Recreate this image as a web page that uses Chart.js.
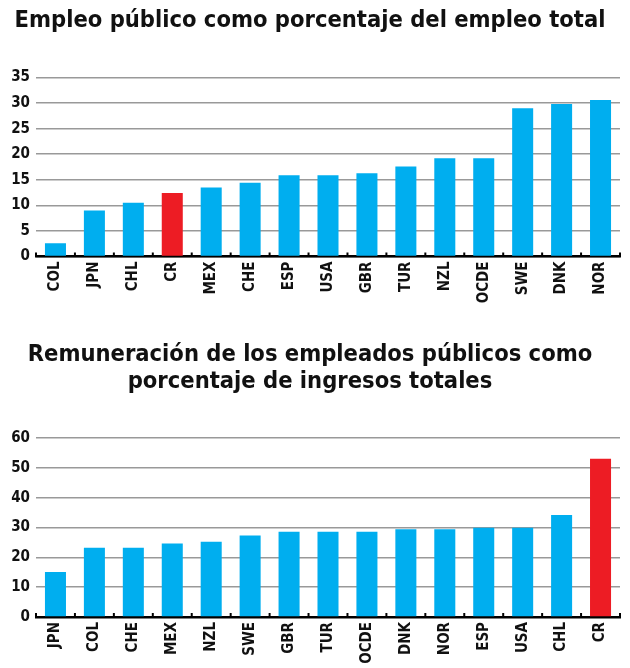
<!DOCTYPE html>
<html>
<head>
<meta charset="utf-8">
<script src="https://cdn.jsdelivr.net/npm/chart.js@4.4.1/dist/chart.umd.min.js"></script>
<style>
  html, body { margin: 0; padding: 0; background: #fff; }
  body { width: 630px; height: 668px; position: relative; overflow: hidden; }
  canvas { position: absolute; left: 0; }
  #c1 { top: 0; }
  #c2 { top: 330px; }
</style>
</head>
<body>
<canvas id="c1" width="630" height="325"></canvas>
<canvas id="c2" width="630" height="338"></canvas>
<script>
// ---- Data: chart 1 ----
const title1 = 'Empleo público como porcentaje del empleo total';
const categories1 = ['COL', 'JPN', 'CHL', 'CR', 'MEX', 'CHE', 'ESP', 'USA', 'GBR', 'TUR', 'NZL', 'OCDE', 'SWE', 'DNK', 'NOR'];
const values1 = [2.6, 9.0, 10.5, 12.4, 13.5, 14.4, 15.9, 15.9, 16.3, 17.6, 19.2, 19.2, 29.0, 29.8, 30.6];
const yTicks1 = [0, 5, 10, 15, 20, 25, 30, 35];

// ---- Data: chart 2 ----
const title2 = ['Remuneración de los empleados públicos como', 'porcentaje de ingresos totales'];
const categories2 = ['JPN', 'COL', 'CHE', 'MEX', 'NZL', 'SWE', 'GBR', 'TUR', 'OCDE', 'DNK', 'NOR', 'ESP', 'USA', 'CHL', 'CR'];
const values2 = [15.1, 23.2, 23.2, 24.6, 25.2, 27.3, 28.6, 28.6, 28.6, 29.4, 29.4, 29.9, 29.9, 34.2, 53.0];
const yTicks2 = [0, 10, 20, 30, 40, 50, 60];

const highlight = 'CR';
const BLUE = '#00aeef';
const RED = '#ed1c24';
const FONT = "'DejaVu Sans Condensed', sans-serif";

const tickMarks = {
  id: 'tickMarks',
  afterDatasetsDraw(chart) {
    const xs = chart.scales.x;
    const ctx = chart.ctx;
    const n = chart.data.labels.length;
    const half = (xs.getPixelForValue(1) - xs.getPixelForValue(0)) / 2;
    ctx.save();
    ctx.strokeStyle = '#000';
    ctx.lineWidth = 2;
    for (let i = 0; i <= n; i++) {
      const px = i < n ? xs.getPixelForValue(i) - half : xs.getPixelForValue(n - 1) + half;
      ctx.beginPath();
      ctx.moveTo(px, xs.top - 4);
      ctx.lineTo(px, xs.top);
      ctx.stroke();
    }
    ctx.restore();
  }
};

function makeChart(id, titleText, titlePad, cats, vals, ticks, xHeight) {
  const yMax = ticks[ticks.length - 1];
  const step = ticks[1] - ticks[0];
  return new Chart(document.getElementById(id), {
    type: 'bar',
    data: {
      labels: cats,
      datasets: [{
        data: vals,
        backgroundColor: cats.map(c => c === highlight ? RED : BLUE),
        borderWidth: 0,
        categoryPercentage: 1,
        barPercentage: 0.54
      }]
    },
    options: {
      responsive: false,
      animation: false,
      devicePixelRatio: 1,
      layout: { padding: { left: 0, right: 10, top: 0, bottom: 0 } },
      plugins: {
        legend: { display: false },
        tooltip: { enabled: false },
        title: {
          display: true,
          text: titleText,
          color: '#111',
          font: { family: FONT, size: 23.5, weight: 'bold', lineHeight: 1.17 },
          padding: titlePad
        }
      },
      scales: {
        x: {
          grid: { display: false, drawTicks: false },
          border: { display: true, color: '#000', width: 2.5 },
          ticks: {
            color: '#111',
            font: { family: FONT, size: 15, weight: 'bold' },
            minRotation: 90,
            maxRotation: 90,
            padding: 5,
            autoSkip: false
          },
          afterFit(s) { s.height = xHeight; }
        },
        y: {
          min: 0,
          max: yMax,
          grid: { color: '#999', lineWidth: 1.5, drawTicks: false },
          border: { display: false },
          ticks: {
            stepSize: step,
            color: '#111',
            font: { family: FONT, size: 15, weight: 'bold' },
            padding: 6
          },
          afterFit(s) { s.width = 36; }
        }
      }
    },
    plugins: [tickMarks]
  });
}

makeChart('c1', title1, { top: 7, bottom: 43 }, categories1, values1, yTicks1, 325 - 256.5);
makeChart('c2', title2, { top: 11, bottom: 42 }, categories2, values2, yTicks2, 51);
</script>
</body>
</html>
